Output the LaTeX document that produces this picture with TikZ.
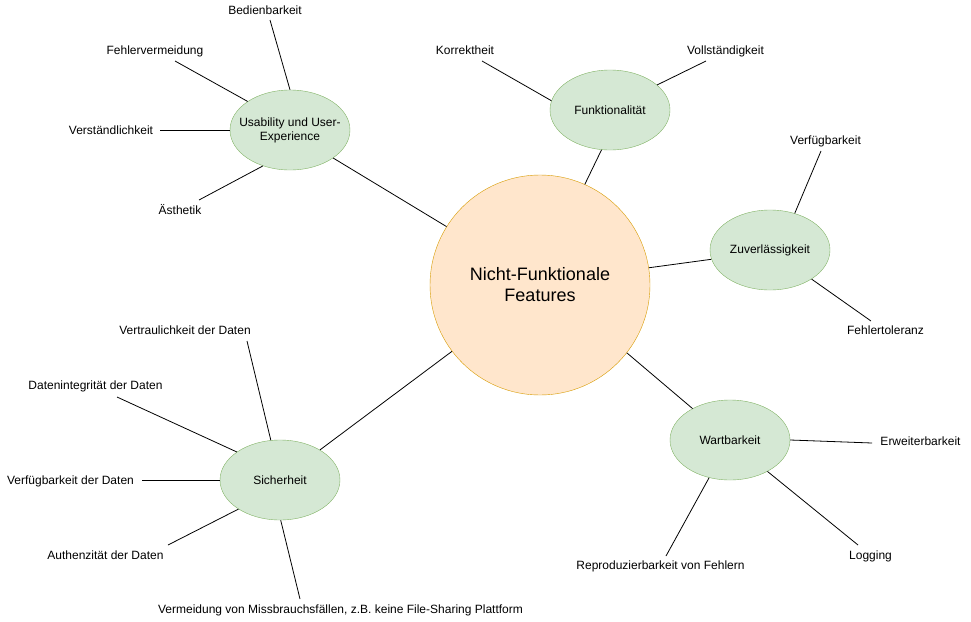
\documentclass[tikz,border=0pt]{standalone}
\usepackage{fontspec}
\setmainfont{Liberation Sans}
\usetikzlibrary{shapes.geometric,positioning}
\definecolor{hubfill}{HTML}{FFE6CC}
\definecolor{hubdraw}{HTML}{D79B00}
\definecolor{catfill}{HTML}{D5E8D4}
\definecolor{catdraw}{HTML}{82B366}

\begin{document}
\begin{tikzpicture}[x=1pt,y=-1pt,
	hub/.style={circle,draw=hubdraw,fill=hubfill,minimum size=220pt,inner sep=0pt,
		align=center,font=\fontsize{18}{21}\selectfont},
	cat/.style={ellipse,draw=catdraw,fill=catfill,minimum width=120pt,minimum height=80pt,inner sep=0pt},
	cattext/.style={inner sep=0pt,align=center,font=\fontsize{12}{14}\selectfont},
	leaf/.style={inner sep=0pt,font=\fontsize{12}{14}\selectfont},
	every edge/.style={draw,line width=0.8pt}]
	\useasboundingbox (0,0) rectangle (971,621);

	% hub and categories
	\node[hub]                                                   (nf)  at (540,285) {Nicht-Funktionale\\Features};
	\node[cat, label={[cattext]center:Usability und User-\\Experience}] (use) at (290,130) {};
	\node[cat, label={[cattext]center:Funktionalit\"at}]          (fun) at (610,110) {};
	\node[cat, label={[cattext]center:Zuverl\"assigkeit}]         (zuv) at (770,250) {};
	\node[cat, label={[cattext]center:Sicherheit}]                (sic) at (280,480) {};
	\node[cat, label={[cattext]center:Wartbarkeit}]               (war) at (730,440) {};

	% leaves
	\node[leaf] (bed)  at (265,10.5)  {Bedienbarkeit};
	\node[leaf] (fvm)  at (155,51.5)  {Fehlervermeidung};
	\node[leaf] (vst)  at (111,130.5) {Verst\"andlichkeit};
	\node[leaf] (aes)  at (180,210)   {\"Asthetik};
	\node[leaf] (kor)  at (465,50.5)  {Korrektheit};
	\node[leaf] (vol)  at (725.5,51)  {Vollst\"andigkeit};
	\node[leaf] (vfb)  at (825.5,141) {Verf\"ugbarkeit};
	\node[leaf] (ftl)  at (885.5,330) {Fehlertoleranz};
	\node[leaf] (vtr)  at (185,330.5) {Vertraulichkeit der Daten};
	\node[leaf] (din)  at (95.5,386)  {Datenintegrit\"at der Daten};
	\node[leaf] (vdd)  at (70.5,481)  {Verf\"ugbarkeit der Daten};
	\node[leaf] (aut)  at (105.5,555.5) {Authenzit\"at der Daten};
	\node[leaf] (mis)  at (340.5,610) {Vermeidung von Missbrauchsf\"allen, z.B. keine File-Sharing Plattform};
	\node[leaf] (erw)  at (920.5,441) {Erweiterbarkeit};
	\node[leaf] (log)  at (870.5,556) {Logging};
	\node[leaf] (rep)  at (660.5,566) {Reproduzierbarkeit von Fehlern};

	% free line ends next to the leaves
	\coordinate (bed-e) at (270,20);
	\coordinate (fvm-e) at (175,61);
	\coordinate (vst-e) at (160,130);
	\coordinate (aes-e) at (199,200);
	\coordinate (kor-e) at (482,61);
	\coordinate (vol-e) at (706,61);
	\coordinate (vfb-e) at (821,151);
	\coordinate (ftl-e) at (871,321);
	\coordinate (vtr-e) at (247,341);
	\coordinate (din-e) at (117,397);
	\coordinate (vdd-e) at (142,480);
	\coordinate (aut-e) at (168,545);
	\coordinate (mis-e) at (300,599);
	\coordinate (erw-e) at (872,443);
	\coordinate (log-e) at (858,545);
	\coordinate (rep-e) at (666,556);

	\path
	(nf.148) edge (use.327)
	(nf.66)  edge (fun.258)
	(nf.9)   edge (zuv.189)
	(nf.217) edge (sic.37)
	(nf.322) edge (war.140)
	(bed-e)  edge (use.90)
	(fvm-e)  edge (use.146)
	(vst-e)  edge (use.180)
	(aes-e)  edge (use.233)
	(kor-e)  edge (fun.171)
	(vol-e)  edge (fun.28)
	(vfb-e)  edge (zuv.56)
	(ftl-e)  edge (zuv.325)
	(vtr-e)  edge (sic.103)
	(din-e)  edge (sic.147)
	(vdd-e)  edge (sic.180)
	(aut-e)  edge (sic.215)
	(mis-e)  edge (sic.271)
	(erw-e)  edge (war.0)
	(log-e)  edge (war.320)
	(rep-e)  edge (war.241);
\end{tikzpicture}
\end{document}
